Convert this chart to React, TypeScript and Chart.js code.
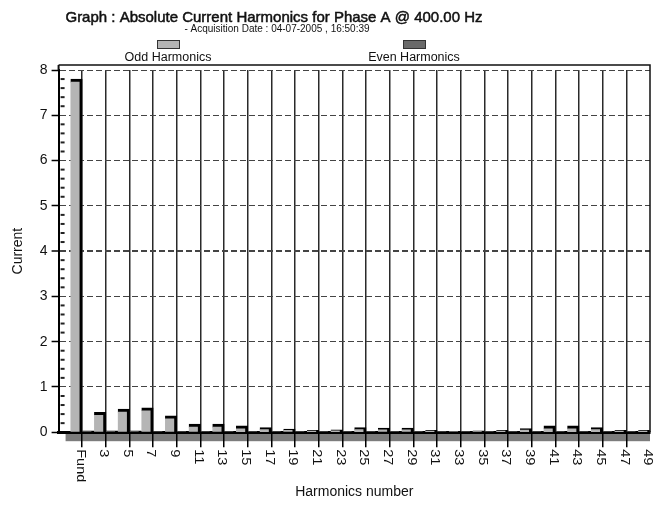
import { useEffect, useRef } from "react";
import { Chart, registerables } from "chart.js";

Chart.register(...registerables);

// Harmonic categories (index 0 of the chart is an empty DC slot)
const harmonics = [
  "Fund", "2", "3", "4", "5", "6", "7", "8", "9", "10",
  "11", "12", "13", "14", "15", "16", "17", "18", "19", "20",
  "21", "22", "23", "24", "25", "26", "27", "28", "29", "30",
  "31", "32", "33", "34", "35", "36", "37", "38", "39", "40",
  "41", "42", "43", "44", "45", "46", "47", "48", "49",
];

// Odd harmonics: Fund, 3, 5, ... 49
const oddValues = [
  7.8, 0.44, 0.51, 0.54, 0.36, 0.18, 0.18, 0.14, 0.1, 0.07,
  0.04, 0.05, 0.1, 0.09, 0.09, 0.04, 0.02, 0.03, 0.04, 0.08,
  0.14, 0.14, 0.1, 0.04, 0.04,
];

// Even harmonics: 2, 4, ... 48
const evenValues = [
  0.03, 0.03, 0.03, 0.02, 0.02, 0.02, 0.02, 0.02, 0.02, 0.02,
  0.02, 0.02, 0.02, 0.02, 0.02, 0.02, 0.02, 0.02, 0.02, 0.02,
  0.02, 0.02, 0.02, 0.02,
];

const tickLabels = [
  "Fund", "3", "5", "7", "9", "11", "13", "15", "17", "19", "21", "23", "25",
  "27", "29", "31", "33", "35", "37", "39", "41", "43", "45", "47", "49",
];

const yTicks = [0, 1, 2, 3, 4, 5, 6, 7, 8];

const titleText = "Graph : Absolute Current Harmonics for Phase A @ 400.00 Hz";
const subtitleText = "- Acquisition Date : 04-07-2005 , 16:50:39";
const oddLabel = "Odd Harmonics";
const evenLabel = "Even Harmonics";
const yTitle = "Current";
const xTitle = "Harmonics number";

const FONT = '"Liberation Sans", Arial, Helvetica, sans-serif';
const ODD_COLOR = "#b5b5b5";
const EVEN_COLOR = "#6a6a6a";

const labels = ["", ...harmonics];
const oddData = labels.map((_, i) => (i % 2 === 1 ? oddValues[(i - 1) / 2] : null));
const evenData = labels.map((_, i) => (i >= 2 && i % 2 === 0 ? evenValues[i / 2 - 1] : null));

const decorPlugin = {
  id: "decor",
  beforeDraw(chart: any) {
    const { ctx, chartArea: a } = chart;
    ctx.save();
    ctx.fillStyle = "#7c7c7c";
    ctx.fillRect(a.left + 7, a.bottom + 1, a.right - a.left - 7, 8);
    ctx.restore();
  },
  afterDraw(chart: any) {
    const { ctx, chartArea: a, scales } = chart;
    const xs = scales.x;
    const ys = scales.y;
    ctx.save();
    // frame
    ctx.strokeStyle = "#111";
    ctx.lineWidth = 1.5;
    ctx.beginPath();
    ctx.moveTo(a.left, a.top - 5);
    ctx.lineTo(a.right, a.top - 5);
    ctx.lineTo(a.right, a.bottom);
    ctx.stroke();
    ctx.lineWidth = 2;
    ctx.beginPath();
    ctx.moveTo(a.left, a.top - 5);
    ctx.lineTo(a.left, a.top);
    ctx.stroke();
    // minor ticks inside y axis
    ctx.strokeStyle = "#222";
    ctx.lineWidth = 2;
    for (let k = 1; k < 40; k++) {
      if (k % 5 === 0) continue;
      const py = ys.getPixelForValue(k * 0.2);
      ctx.beginPath();
      ctx.moveTo(a.left + 2, py);
      ctx.lineTo(a.left + 6, py);
      ctx.stroke();
    }
    // x tick labels (rotated clockwise)
    const w = xs.getPixelForTick(1) - xs.getPixelForTick(0);
    ctx.fillStyle = "#111";
    ctx.font = `13.5px ${FONT}`;
    ctx.textAlign = "left";
    ctx.textBaseline = "middle";
    tickLabels.forEach((lab) => {
      const idx = labels.indexOf(lab);
      const px = xs.getPixelForTick(idx) + w / 2;
      ctx.save();
      ctx.translate(px - 2, a.bottom + 17);
      ctx.rotate(Math.PI / 2);
      ctx.scale(1.08, 1);
      ctx.fillText(lab, 0, 0);
      ctx.restore();
    });
    // titles
    ctx.textAlign = "center";
    ctx.textBaseline = "alphabetic";
    ctx.fillStyle = "#111";
    ctx.strokeStyle = "#111";
    ctx.lineWidth = 0.5;
    ctx.font = `15px ${FONT}`;
    ctx.fillText(titleText, 274, 22);
    ctx.strokeText(titleText, 274, 22);
    ctx.font = `10px ${FONT}`;
    ctx.fillText(subtitleText, 277, 32);
    // legend
    const items = [
      { ds: chart.data.datasets[0], cx: 168 },
      { ds: chart.data.datasets[1], cx: 414 },
    ];
    items.forEach(({ ds, cx }) => {
      ctx.fillStyle = ds.backgroundColor;
      ctx.fillRect(cx - 11, 40, 23, 9);
      ctx.strokeStyle = "#333";
      ctx.lineWidth = 1;
      ctx.strokeRect(cx - 11 + 0.5, 40.5, 22, 8);
      ctx.fillStyle = "#111";
      ctx.font = `12.5px ${FONT}`;
      ctx.fillText(ds.label, cx, 61);
    });
    ctx.restore();
  },
};

export default function App() {
  const ref = useRef<HTMLCanvasElement | null>(null);

  useEffect(() => {
    if (!ref.current) return;
    const chart = new Chart(ref.current, {
      type: "bar",
      data: {
        labels,
        datasets: [
          {
            label: oddLabel,
            data: oddData,
            backgroundColor: ODD_COLOR,
            borderColor: "#000",
            borderWidth: { top: 3, right: 3, left: 0, bottom: 0 },
            borderSkipped: "bottom",
            grouped: false,
            categoryPercentage: 1,
            barPercentage: 1,
          },
          {
            label: evenLabel,
            data: evenData,
            backgroundColor: EVEN_COLOR,
            borderColor: "#000",
            borderWidth: { top: 3, right: 3, left: 0, bottom: 0 },
            borderSkipped: "bottom",
            grouped: false,
            categoryPercentage: 1,
            barPercentage: 1,
          },
        ],
      },
      options: {
        responsive: false,
        animation: false,
        layout: { padding: { top: 70, right: 4, bottom: 4, left: 0 } },
        plugins: {
          legend: { display: false },
          title: { display: false },
          tooltip: { enabled: false },
        },
        scales: {
          x: {
            type: "category",
            offset: true,
            grid: {
              offset: true,
              color: (c: any) => (c.index > 0 && c.index % 2 === 0 ? "#2a2a2a" : "rgba(0,0,0,0)"),
              tickColor: (c: any) => (c.index > 0 && c.index % 2 === 0 ? "#000" : "rgba(0,0,0,0)"),
              lineWidth: 1.5,
              tickWidth: 1.5,
              tickLength: 15,
              drawTicks: true,
            },
            border: { display: true, color: "#000", width: 3 },
            ticks: { display: false, autoSkip: false },
            title: {
              display: true,
              text: xTitle,
              color: "#111",
              font: { family: FONT, size: 14 },
              padding: { top: 37, bottom: 4 },
            },
          },
          y: {
            min: 0,
            max: 8,
            afterBuildTicks: (s: any) => {
              s.ticks = yTicks.map((v) => ({ value: v }));
            },
            grid: {
              color: "#444",
              lineWidth: (c: any) => (c.tick && c.tick.value === 4 ? 2 : 1),
              tickColor: "#000",
              tickWidth: 1.5,
              tickLength: 7,
            },
            border: { display: true, color: "#000", width: 2, dash: [6, 3] },
            ticks: {
              color: "#111",
              font: { family: FONT, size: 14 },
              padding: 4,
            },
            title: {
              display: true,
              text: yTitle,
              color: "#111",
              font: { family: FONT, size: 14 },
              padding: { top: 10, bottom: 9 },
            },
          },
        },
      },
      plugins: [decorPlugin],
    } as any);
    return () => chart.destroy();
  }, []);

  return (
    <div style={{ position: "fixed", left: 0, top: 0, width: 654, height: 509, background: "#fff" }}>
      <canvas ref={ref} width={654} height={509} />
    </div>
  );
}
